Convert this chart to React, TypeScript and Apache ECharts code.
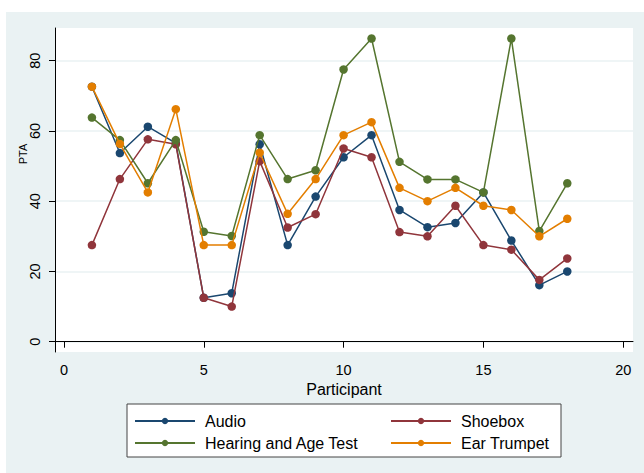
import React, { useEffect, useRef } from "react";
import * as echarts from "echarts";

const participants = [1, 2, 3, 4, 5, 6, 7, 8, 9, 10, 11, 12, 13, 14, 15, 16, 17, 18];
const audio = [72.6, 53.7, 61.2, 56.5, 12.5, 13.8, 56.2, 27.5, 41.3, 52.5, 58.8, 37.5, 32.6, 33.8, 42.5, 28.8, 16.1, 20.0];
const shoebox = [27.5, 46.3, 57.6, 56.2, 12.5, 10.0, 51.4, 32.5, 36.3, 55.0, 52.5, 31.2, 30.0, 38.7, 27.5, 26.2, 17.6, 23.7];
const hearing = [63.8, 57.4, 45.1, 57.4, 31.3, 30.1, 58.8, 46.3, 48.8, 77.5, 86.3, 51.2, 46.2, 46.2, 42.5, 86.3, 31.5, 45.1];
const trumpet = [72.6, 56.3, 42.5, 66.2, 27.5, 27.5, 53.8, 36.4, 46.3, 58.8, 62.5, 43.8, 40.0, 43.8, 38.7, 37.5, 30.0, 35.0];
const xTicks = [0, 5, 10, 15, 20];
const yTicks = [0, 20, 40, 60, 80];
const seriesNames = ["Audio", "Shoebox", "Hearing and Age Test", "Ear Trumpet"];
const seriesColors = ["#1a476f", "#90353b", "#55752f", "#e37e00"];

const FONT = "'Liberation Sans', Arial, Helvetica, sans-serif";

export default function App() {
  const ref = useRef<HTMLDivElement>(null);
  useEffect(() => {
    if (!ref.current) return;
    const chart = echarts.init(ref.current, null, { renderer: "svg" });
    const values = [audio, shoebox, hearing, trumpet];
    const series = values.map((v, i) => ({
      name: seriesNames[i],
      type: "line",
      data: v.map((y, j) => [participants[j], y]),
      symbol: "circle",
      symbolSize: 8.5,
      showSymbol: true,
      color: seriesColors[i],
      lineStyle: { width: 1.5, color: seriesColors[i] },
      itemStyle: { color: seriesColors[i] },
      z: 3 + i,
    }));
    const legendCommon = {
      orient: "vertical",
      padding: 0,
      itemWidth: 60,
      itemHeight: 8,
      itemGap: 6,
      textStyle: { fontFamily: FONT, fontSize: 16, color: "#000", lineHeight: 16, padding: [0, 0, 0, 5] },
      z: 10,
    };
    chart.setOption({
      animation: false,
      backgroundColor: "#ffffff",
      textStyle: { fontFamily: FONT },
      graphic: [
        { type: "rect", shape: { x: 6, y: 12, width: 640, height: 463 }, style: { fill: "#eaf2f3" }, z: -10, silent: true },
        { type: "rect", shape: { x: 127, y: 404, width: 434, height: 53 }, style: { fill: "#ffffff", stroke: "#444444", lineWidth: 1 }, z: 1, silent: true },
        {
          type: "text",
          x: 23,
          y: 154,
          rotation: Math.PI / 2,
          style: { text: "PTA", fontFamily: FONT, fontSize: 11, fill: "#000", align: "center", verticalAlign: "middle" },
          z: 5,
        },
      ],
      legend: [
        { ...legendCommon, left: 134, top: 413, data: [seriesNames[0], seriesNames[2]] },
        { ...legendCommon, left: 390, top: 413, data: [seriesNames[1], seriesNames[3]] },
      ],
      grid: { left: 55, top: 28, right: 11, bottom: 121, show: true, backgroundColor: "#ffffff", borderWidth: 0, containLabel: false },
      xAxis: {
        type: "value",
        min: -0.32,
        max: 20.35,
        name: "Participant",
        nameLocation: "middle",
        nameGap: 28,
        nameTextStyle: { fontFamily: FONT, fontSize: 16, color: "#000" },
        axisLine: { show: true, lineStyle: { color: "#000", width: 1 } },
        axisTick: { show: true, length: 6, customValues: xTicks, lineStyle: { color: "#000" } },
        axisLabel: { customValues: xTicks, margin: 10, fontFamily: FONT, fontSize: 14.5, color: "#000" },
        splitLine: { show: false },
      },
      yAxis: {
        type: "value",
        min: -2.93,
        max: 89.3,
        axisLine: { show: true, onZero: false, lineStyle: { color: "#000", width: 1 } },
        axisTick: { show: true, length: 6, customValues: yTicks, lineStyle: { color: "#000" } },
        axisLabel: { customValues: yTicks, rotate: 90, margin: 13, fontFamily: FONT, fontSize: 14.5, color: "#000" },
        splitLine: { show: true, lineStyle: { color: "#eaf2f3", width: 1.5 } },
      },
      series,
    });
    return () => chart.dispose();
  }, []);
  return <div ref={ref} style={{ position: "absolute", left: 0, top: 0, width: 644, height: 473 }} />;
}
